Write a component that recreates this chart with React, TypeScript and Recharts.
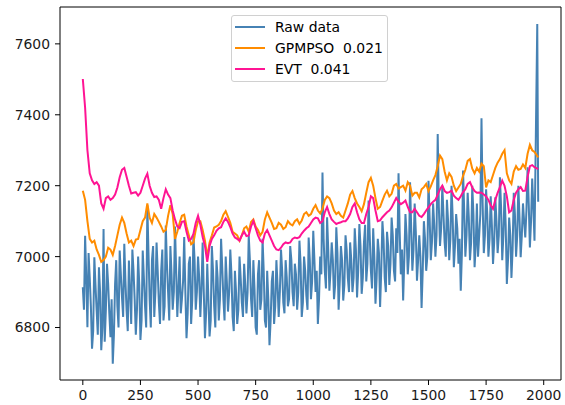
import { Line, LineChart, ReferenceArea, XAxis, YAxis } from 'recharts'

// raw series: readings at t = 0, 10, ... 1960 and the in-between readings at t = 5, 15, ... 1955
const RAW_STEP = 10
const RAW = [
  6914, 7059, 6801, 6942, 6740, 6998, 6848, 6970, 6736, 7078, 6848, 6923, 6773, 6698, 6923, 6860,
  7017, 6885, 7036, 6848, 6989, 6810,
  6960, 6780, 7000, 6765, 7017, 6860, 7145, 6880, 6990, 6830, 7040, 6870, 6960, 6820, 7088, 6900,
  7030, 6850, 7085, 6830, 7000, 6880, 7055, 6770, 6980, 6810, 7060, 6850, 7000, 6830, 7040,
  6770, 6980, 6775, 7030, 6860, 6990, 6820, 7050, 6880, 7000, 6845, 7020, 6830, 6960, 6810, 7000,
  6870, 6980, 6840, 7060, 6880, 6990, 6800, 6950, 6850, 7050, 6820, 6960, 6750, 6930, 6810, 6990,
  6830, 7020, 6870, 6990, 6860, 7030, 6900, 6980, 6850, 7045, 6830, 7000, 6890, 7054, 6880, 7073,
  6900, 6810, 7000, 7237, 6960, 7111, 6904, 7040, 6880, 7083, 6850, 7030, 6876, 7060, 6940,
  7040, 6900, 7080, 6885, 7092, 6895, 7040, 6930, 7158, 6960, 7080, 6867, 7050, 6858, 7100, 6940,
  7070, 6920, 7110, 6960, 7080, 7235, 6950, 6876, 7120, 6950, 7210, 6960, 7150, 6932, 7060,
  6855, 7100, 6960, 7214, 6990, 7150, 7000, 7346, 7030, 7200, 7040, 7160, 6990, 7200, 6970, 7120,
  6980, 6904, 7243, 7000, 7180, 6990, 7200, 6970, 7150, 7060, 7390, 7010, 7190, 7000, 7170,
  6979, 7167, 7010, 7224, 6990, 7180, 6923, 7110, 6940, 7180, 7000, 7200, 6998, 7150, 7054, 7252,
  7026, 7220, 7045,
]
const RAW_MID = [
  6850, 6940, 7010, 6860, 6790, 6920, 6780, 6900, 6800, 6760, 6980, 6840, 6880, 6780, 6990, 6800,
  6950, 6830, 6930, 6790, 6900,
  7020, 6880, 6850, 6920, 6820, 6940, 6800, 7010, 6800, 7030, 6900, 6960, 6810, 7020, 6860, 6980,
  6820, 6950, 6900, 6960, 6910, 6840, 6930, 6900, 6840, 7000, 6880, 6990, 6900, 6940, 6910,
  6900, 6840, 6880, 6820, 6960, 6800, 6940, 6880, 6970, 6820, 6930, 6900, 6950, 6790, 6900, 6850,
  6940, 6830, 6920, 6900, 6990, 6830, 6910, 6780, 6990, 6880, 6960, 6800, 6880, 6820, 6960, 6860,
  6920, 6900, 6960, 6840, 6940, 6880, 6990, 6860, 6950, 6900, 6980, 6870, 6960, 6850, 6990, 6930,
  6990, 6960, 6880, 6950, 7050, 6910, 7020, 6960, 6990, 6920, 7010, 6930, 6990, 6920, 7020,
  6900, 6990, 6940, 7020, 6960, 7030, 6940, 7090, 6980, 7060, 6910, 7000, 6940, 7010, 6960, 7050,
  6900, 7030, 6980, 7060, 6930, 7010, 7070, 7020, 6990, 7060, 7000, 7080, 7020, 7070, 6990,
  7000, 6960, 7050, 7000, 7110, 7040, 7090, 7060, 7140, 7080, 7120, 7000, 7100, 7050, 7110, 7030,
  7080, 7050, 7010, 7130, 7060, 7110, 7040, 7120, 7030, 7000, 7120, 7150, 7060, 7120, 7050,
  7090, 7040, 7100, 7060, 7140, 7060, 7090, 6990, 7060, 7020, 7120, 7060, 7110, 7060, 7100, 7130,
  7150, 7100, 7140,
]
const RAW_TAIL_T = [1972, 1976]
const RAW_TAIL = [7656, 7155]

// fitted thresholds: readings at t = 0, 20, ... 1960 plus the last step, and in-between readings at t = 10, 30, ... 1950
const FIT_STEP = 20
const FIT_END_T = 1976
const GPMPSO = [
  7186, 7100, 7040, 7020, 6985, 7000, 7020, 7030, 7090, 7095, 7040, 7030, 7050, 7100, 7150, 7095,
  7110, 7085, 7075, 7145, 7050, 7095, 7118, 7060, 7040, 7100, 7075, 7000, 7060, 7085, 7100, 7128,
  7095, 7065, 7045, 7080, 7070, 7105, 7075, 7070, 7125, 7095, 7080, 7090, 7083, 7092, 7100, 7092,
  7120, 7115, 7135, 7130, 7135, 7170, 7150, 7120, 7115, 7130, 7175, 7165, 7140, 7148, 7210, 7200,
  7135, 7158, 7186, 7177, 7205, 7196, 7186, 7200, 7180, 7167, 7196, 7185, 7215, 7255, 7275, 7215,
  7225, 7185, 7205, 7245, 7275, 7235, 7240, 7255, 7215, 7230, 7265, 7290, 7235, 7205, 7255, 7247,
  7250, 7315, 7295, 7280,
]
const GPMPSO_MID = [
  7160, 7050, 7045, 7005, 6990, 7025, 7005, 7060, 7110, 7065, 7045, 7048, 7075, 7110, 7110, 7120,
  7098, 7070, 7115, 7120, 7070, 7115, 7085, 7035, 7075, 7100, 7045, 7040, 7082, 7090, 7118, 7112,
  7070, 7060, 7060, 7085, 7098, 7085, 7060, 7105, 7110, 7078, 7095, 7078, 7100, 7088, 7105, 7102,
  7125, 7120, 7145, 7122, 7160, 7165, 7130, 7125, 7110, 7150, 7185, 7150, 7128, 7180, 7222, 7165,
  7140, 7175, 7170, 7200, 7192, 7200, 7210, 7172, 7180, 7190, 7205, 7198, 7230, 7285, 7240, 7235,
  7200, 7195, 7228, 7270, 7248, 7250, 7262, 7195, 7210, 7250, 7275, 7300, 7215, 7240, 7245, 7260,
  7290, 7300,
]
const EVT = [
  7501, 7300, 7215, 7210, 7150, 7165, 7160, 7175, 7224, 7250, 7200, 7180, 7172, 7200, 7234, 7180,
  7170, 7135, 7190, 7165, 7105, 7080, 7100, 7045, 7064, 7115, 7055, 6985, 7050, 7073, 7083, 7108,
  7083, 7054, 7045, 7070, 7060, 7100, 7060, 7040, 7075, 7045, 7020, 7025, 7040, 7040, 7054, 7055,
  7073, 7085, 7105, 7108, 7100, 7140, 7105, 7092, 7097, 7100, 7120, 7150, 7105, 7095, 7140, 7165,
  7100, 7111, 7125, 7139, 7165, 7148, 7158, 7125, 7135, 7115, 7120, 7139, 7155, 7175, 7200, 7180,
  7186, 7165, 7170, 7190, 7210, 7185, 7181, 7175, 7160, 7135, 7180, 7214, 7170, 7130, 7180, 7196,
  7186, 7255, 7252, 7247,
]
const EVT_MID = [
  7420, 7235, 7205, 7200, 7135, 7170, 7165, 7195, 7245, 7225, 7178, 7182, 7180, 7220, 7200, 7168,
  7160, 7165, 7175, 7130, 7085, 7098, 7070, 7050, 7095, 7090, 7030, 7030, 7060, 7080, 7098, 7098,
  7065, 7050, 7060, 7058, 7085, 7080, 7045, 7065, 7060, 7030, 7018, 7035, 7038, 7050, 7052, 7065,
  7080, 7095, 7110, 7095, 7125, 7120, 7098, 7095, 7100, 7108, 7140, 7125, 7095, 7120, 7170, 7130,
  7102, 7118, 7130, 7152, 7155, 7152, 7140, 7125, 7125, 7112, 7130, 7148, 7160, 7190, 7185, 7182,
  7172, 7160, 7182, 7205, 7195, 7180, 7180, 7170, 7145, 7160, 7196, 7200, 7125, 7160, 7190, 7185,
  7225, 7258,
]

const X_TICKS = [0, 250, 500, 750, 1000, 1250, 1500, 1750, 2000]
const Y_TICKS = [6800, 7000, 7200, 7400, 7600]
const X_DOMAIN: [number, number] = [-99, 2075]
const Y_DOMAIN: [number, number] = [6652, 7704]

const LEGEND = [
  { label: 'Raw data', color: '#4682b4' },
  { label: 'GPMPSO  0.021', color: '#ff8c00' },
  { label: 'EVT  0.041', color: '#ff1493' },
]

const FONT = '"DejaVu Sans", sans-serif'

type Row = { t: number; v: number }

function mergeRows(main: number[], mids: number[], step: number): Row[] {
  const rows: Row[] = []
  main.forEach((v, i) => {
    rows.push({ t: i * step, v })
    if (i < mids.length) rows.push({ t: i * step + step / 2, v: mids[i] })
  })
  return rows
}

function fitRows(main: number[], mids: number[]): Row[] {
  const rows = mergeRows(main.slice(0, -1), mids, FIT_STEP)
  rows.push({ t: FIT_END_T, v: main[main.length - 1] })
  return rows
}

const rawRows = [
  ...mergeRows(RAW, RAW_MID, RAW_STEP),
  ...RAW_TAIL.map((v, i) => ({ t: RAW_TAIL_T[i], v })),
]
const gpRows = fitRows(GPMPSO, GPMPSO_MID)
const evtRows = fitRows(EVT, EVT_MID)

const tickStyle = { fill: '#1a1a1a', fontSize: 13.9, fontFamily: FONT }

export default function App() {
  return (
    <div style={{ position: 'relative', width: 565, height: 405, background: '#fff' }}>
      <style>{'body{margin:0}'}</style>
      <LineChart width={565} height={405} margin={{ top: 7, right: 4, bottom: 0, left: 0 }}>
        <XAxis
          type="number"
          dataKey="t"
          domain={X_DOMAIN}
          ticks={X_TICKS}
          allowDataOverflow
          height={25}
          tickSize={5}
          tickMargin={5}
          axisLine={false}
          tickLine={{ stroke: '#000' }}
          tick={tickStyle}
        />
        <YAxis
          type="number"
          domain={Y_DOMAIN}
          ticks={Y_TICKS}
          allowDataOverflow
          width={60}
          tickSize={5}
          tickMargin={5}
          axisLine={false}
          tickLine={{ stroke: '#000' }}
          tick={tickStyle}
        />
        <ReferenceArea
          x1={X_DOMAIN[0]}
          x2={X_DOMAIN[1]}
          y1={Y_DOMAIN[0]}
          y2={Y_DOMAIN[1]}
          fill="none"
          stroke="#000"
          strokeWidth={1}
        />
        <Line data={rawRows} dataKey="v" stroke="#4682b4" strokeWidth={2} dot={false} isAnimationActive={false} />
        <Line data={gpRows} dataKey="v" stroke="#ff8c00" strokeWidth={2} dot={false} isAnimationActive={false} />
        <Line data={evtRows} dataKey="v" stroke="#ff1493" strokeWidth={2} dot={false} isAnimationActive={false} />
      </LineChart>
      <div
        style={{
          position: 'absolute',
          left: 231,
          top: 15,
          width: 155,
          padding: '0 0 2px 0',
          border: '1px solid #d0d0d0',
          borderRadius: 3,
          background: 'rgba(255,255,255,0.8)',
          fontFamily: FONT,
          fontSize: 13.9,
          color: '#000',
        }}
      >
        {LEGEND.map((item) => (
          <div key={item.label} style={{ height: 21, display: 'flex', alignItems: 'center' }}>
            <span
              style={{ display: 'inline-block', width: 30, height: 2, marginLeft: 3, marginRight: 10, background: item.color }}
            />
            <span style={{ whiteSpace: 'pre' }}>{item.label}</span>
          </div>
        ))}
      </div>
    </div>
  )
}
